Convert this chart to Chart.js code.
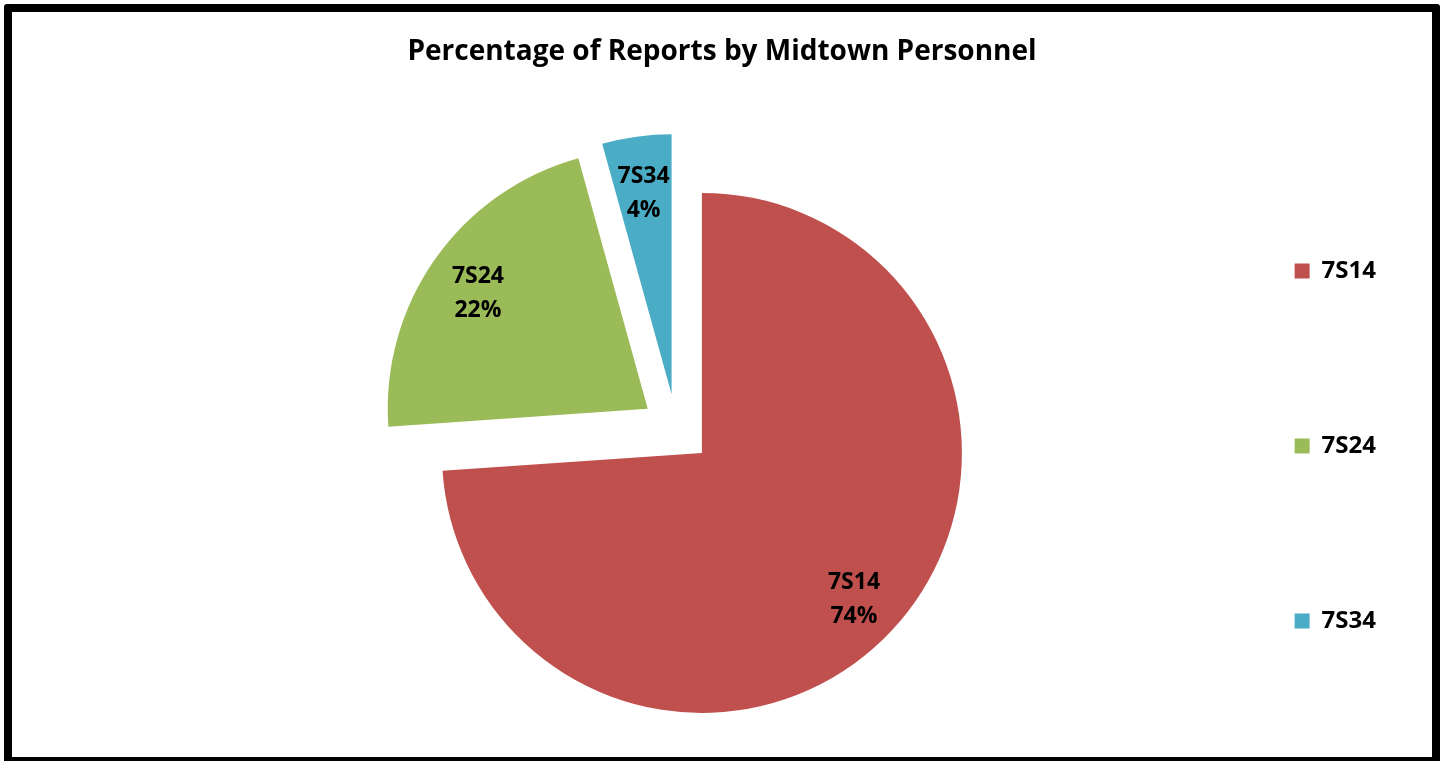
<!DOCTYPE html>
<html>
<head>
<meta charset="utf-8">
<title>Percentage of Reports by Midtown Personnel</title>
<script src="https://cdn.jsdelivr.net/npm/chart.js"></script>
<style>
    html, body { margin: 0; padding: 0; background: #fff; }
    #frame {
        position: absolute; left: 4px; top: 4px;
        width: 1420px; height: 745px;
        border: 8px solid #000; border-radius: 3px;
        background: #fff;
    }
    #frame canvas { display: block; }
    #chartTitle {
        position: absolute; left: 0; top: 20px; width: 100%;
        text-align: center;
        font: bold 28px/34px 'Open Sans', 'DejaVu Sans', sans-serif;
        color: #000;
    }
</style>
</head>
<body>
<div id="frame">
    <canvas id="pieChart" width="1420" height="745"></canvas>
    <div id="chartTitle">Percentage of Reports by Midtown Personnel</div>
</div>
<script>
'use strict';

let labels = ['7S14', '7S24', '7S34']
let values = [73.9, 21.8, 4.3]
let colors = ['#C0504D', '#9BBB59', '#4BACC6']

let explode = 35
let fontFamily = "'Open Sans', 'DejaVu Sans', sans-serif"

// every slice is pulled out from the centre, like the exploded excel pie
let explodePlugin = {
    id: 'explode',
    beforeDatasetDraw: function (chart, args) {
        let ctx = chart.ctx
        args.meta.data.forEach(function (arc) {
            let mid = (arc.startAngle + arc.endAngle) / 2
            ctx.save()
            ctx.translate(Math.cos(mid) * explode, Math.sin(mid) * explode)
            arc.draw(ctx)
            ctx.restore()
        })
        return false
    }
}

// "name / percent" written inside each slice
let labelPlugin = {
    id: 'sliceLabels',
    afterDatasetsDraw: function (chart) {
        let ctx = chart.ctx
        let meta = chart.getDatasetMeta(0)
        let data = chart.data.datasets[0].data
        let total = data.reduce(function (a, b) { return a + b }, 0)
        ctx.save()
        ctx.fillStyle = '#000'
        ctx.font = 'bold 23px ' + fontFamily
        ctx.textAlign = 'center'
        ctx.textBaseline = 'middle'
        meta.data.forEach(function (arc, i) {
            let mid = (arc.startAngle + arc.endAngle) / 2
            let d = explode + arc.outerRadius * 0.8
            let x = arc.x + Math.cos(mid) * d
            let y = arc.y + Math.sin(mid) * d + 5   // 'middle' sits a bit high for this font
            ctx.fillText(chart.data.labels[i], x, y - 17)
            ctx.fillText(Math.round(data[i] / total * 100) + '%', x, y + 17)
        })
        ctx.restore()
    }
}

let pieCanvas = document.getElementById('pieChart').getContext('2d')
let pieChart = new Chart(pieCanvas, {
    type: 'pie',
    data: {
        labels: labels,
        datasets: [
            {
                data: values,
                backgroundColor: colors,
                borderWidth: 0,
                radius: 260
            }
        ]
    },
    options: {
        responsive: false,
        animation: false,
        layout: {
            // top leaves room for the html title, negative bottom only stretches the legend column
            padding: { top: 89, bottom: -34, left: 197, right: 46 }
        },
        plugins: {
            title: { display: false },
            legend: {
                position: 'right',
                labels: {
                    boxWidth: 15,
                    boxHeight: 15,
                    padding: 151,
                    color: '#000',
                    font: { family: fontFamily, size: 24, weight: 'bold' }
                }
            },
            tooltip: { enabled: false }
        }
    },
    plugins: [explodePlugin, labelPlugin]
})
</script>
</body>
</html>
